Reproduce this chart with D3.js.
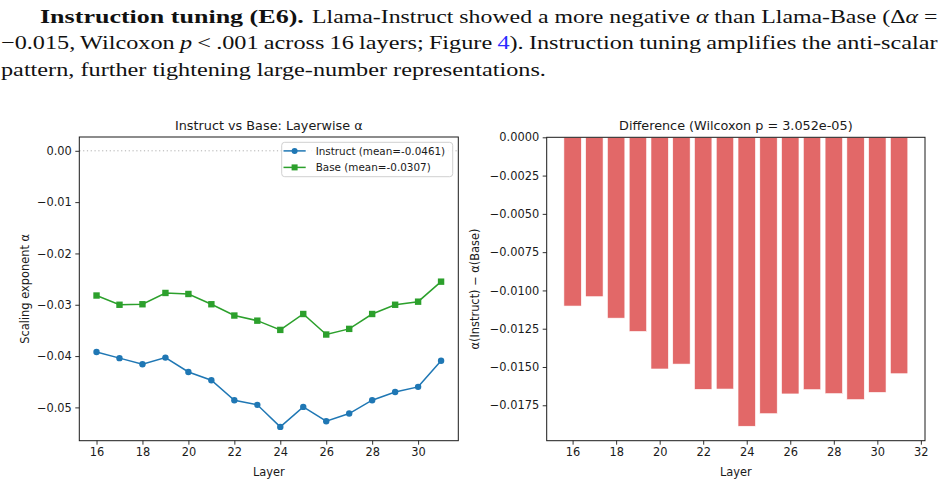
<!DOCTYPE html>
<html>
<head>
<meta charset="utf-8">
<script src="https://cdn.jsdelivr.net/npm/d3@7/dist/d3.min.js"></script>
<style>
  html, body { margin: 0; padding: 0; background: #fff; }
  svg { display: block; }
</style>
</head>
<body>
<svg id="chart" width="947" height="485"></svg>
<script>
// ---------------- data ----------------
const layers = [16, 17, 18, 19, 20, 21, 22, 23, 24, 25, 26, 27, 28, 29, 30, 31];
const instructAlpha = [-0.0392, -0.0404, -0.0416, -0.0403, -0.0431, -0.0447, -0.0486, -0.0495,
                       -0.0538, -0.0499, -0.0527, -0.0512, -0.0486, -0.0470, -0.0460, -0.0409];
const baseAlpha = [-0.0282, -0.0300, -0.0299, -0.0277, -0.0279, -0.0299, -0.0321, -0.0331,
                   -0.0349, -0.0318, -0.0358, -0.0347, -0.0318, -0.0300, -0.0294, -0.0255];
const diffAlpha = [-0.01102, -0.01041, -0.01181, -0.01268, -0.01513, -0.01481, -0.01646, -0.01644,
                   -0.01887, -0.01805, -0.01676, -0.01648, -0.01674, -0.01713, -0.01666, -0.01544];
const leftXTicks = [16, 18, 20, 22, 24, 26, 28, 30];
const leftYTicks = [0, -0.01, -0.02, -0.03, -0.04, -0.05];
const rightXTicks = [16, 18, 20, 22, 24, 26, 28, 30, 32];
const rightYTicks = [0, -0.0025, -0.005, -0.0075, -0.01, -0.0125, -0.015, -0.0175];
const seriesNames = ["Instruct (mean=-0.0461)", "Base (mean=-0.0307)"];
const leftTitle = "Instruct vs Base: Layerwise α";
const rightTitle = "Difference (Wilcoxon p = 3.052e-05)";

const svg = d3.select("#chart");
const FONT = "DejaVu Sans, sans-serif";
const TXT = "#1a1a1a";

// ---------------- paragraph text ----------------
const SERIF = "Liberation Serif, Times New Roman, serif";
const segments = [
  { x: 40, end: 304, y: 22.7, justify: false, fit: true, parts: [
      { t: "Instruction tuning (E6).", w: "bold" } ] },
  { x: 312, end: 937.7, y: 22.7, justify: false, fit: true, parts: [
      { t: "Llama-Instruct showed a more negative " },
      { t: "α", s: "italic" },
      { t: " than Llama-Base (Δ" },
      { t: "α", s: "italic" },
      { t: " =" } ] },
  { x: 1, end: 937.7, y: 49.3, justify: true, parts: [
      { t: "−0.015, Wilcoxon " },
      { t: "p", s: "italic" },
      { t: " < .001 across 16 layers; Figure " },
      { t: "4", c: "#2a2aff" },
      { t: "). Instruction tuning amplifies the anti-scalar" } ] },
  { x: 1, end: 546, y: 76, justify: false, fit: true, base: true, parts: [
      { t: "pattern, further tightening large-number representations." } ] }
];
const segEls = segments.map(S => {
  const g = svg.append("g");
  const t = g.append("text").attr("x", 0).attr("y", 0)
    .attr("font-family", SERIF).attr("font-size", 19.5).attr("fill", "#111")
    .style("white-space", "pre");
  S.parts.forEach(p => {
    t.append("tspan").text(p.t)
      .attr("font-weight", p.w || null)
      .attr("font-style", p.s || null)
      .attr("fill", p.c || null);
  });
  return { g, t, S };
});
const baseSeg = segEls.find(e => e.S.base);
const sxBase = (baseSeg.S.end - baseSeg.S.x) / baseSeg.t.node().getComputedTextLength();
segEls.forEach(({ g, t, S }) => {
  let sx = sxBase;
  const target = S.end - S.x;
  if (S.fit) {
    sx = target / t.node().getComputedTextLength();
  } else if (S.justify) {
    const nat = t.node().getComputedTextLength();
    const nSp = (S.parts.map(p => p.t).join("").match(/ /g) || []).length;
    t.attr("word-spacing", (target / sx - nat) / nSp);
  }
  g.attr("transform", `translate(${S.x},${S.y}) scale(${sx},1)`);
});

// ---------------- helpers ----------------
function frame(x0, x1, y0, y1) {
  svg.append("rect").attr("x", x0).attr("y", y0)
    .attr("width", x1 - x0).attr("height", y1 - y0)
    .attr("fill", "none").attr("stroke", TXT).attr("stroke-width", 1);
}
function styleAxis(g) {
  g.selectAll("path").remove();
  g.selectAll("line").attr("stroke", TXT).attr("stroke-width", 0.9);
  g.selectAll("text").attr("font-family", FONT).attr("font-size", 11.4).attr("fill", TXT);
}

// ---------------- left panel ----------------
const L = { x0: 79.3, x1: 458.3, y0: 137, y1: 440.7 };
const lxExt = d3.extent(layers);
const lxPad = (lxExt[1] - lxExt[0]) * 0.05;
const xL = d3.scaleLinear().domain([lxExt[0] - lxPad, lxExt[1] + lxPad]).range([L.x0, L.x1]);
const lyMin = d3.min(instructAlpha.concat(baseAlpha, [0]));
const lyMax = d3.max(instructAlpha.concat(baseAlpha, [0]));
const lyPad = (lyMax - lyMin) * 0.05;
const yL = d3.scaleLinear().domain([lyMin - lyPad, lyMax + lyPad]).range([L.y1, L.y0]);

svg.append("line").attr("x1", L.x0).attr("x2", L.x1)
  .attr("y1", yL(0)).attr("y2", yL(0))
  .attr("stroke", "#b0b0b0").attr("stroke-width", 1).attr("stroke-dasharray", "1.2,2.6");

const lineGen = d3.line().x((d, i) => xL(layers[i])).y(d => yL(d));
const cBlue = "#1f77b4", cGreen = "#2ca02c";
svg.append("path").datum(instructAlpha).attr("d", lineGen)
  .attr("fill", "none").attr("stroke", cBlue).attr("stroke-width", 1.5);
svg.append("g").selectAll("circle").data(instructAlpha).join("circle")
  .attr("cx", (d, i) => xL(layers[i])).attr("cy", d => yL(d)).attr("r", 3.2).attr("fill", cBlue);
svg.append("path").datum(baseAlpha).attr("d", lineGen)
  .attr("fill", "none").attr("stroke", cGreen).attr("stroke-width", 1.5);
svg.append("g").selectAll("rect").data(baseAlpha).join("rect")
  .attr("x", (d, i) => xL(layers[i]) - 3.2).attr("y", d => yL(d) - 3.2)
  .attr("width", 6.4).attr("height", 6.4).attr("fill", cGreen);

frame(L.x0, L.x1, L.y0, L.y1);
const fmtL = d3.format(".2f");
svg.append("g").attr("transform", `translate(${L.x0},0)`)
  .call(d3.axisLeft(yL).tickValues(leftYTicks).tickFormat(fmtL).tickSizeOuter(0).tickSize(4).tickPadding(3.5))
  .call(styleAxis);
svg.append("g").attr("transform", `translate(0,${L.y1})`)
  .call(d3.axisBottom(xL).tickValues(leftXTicks).tickFormat(d3.format("d")).tickSizeOuter(0).tickSize(4).tickPadding(3.5))
  .call(styleAxis);

svg.append("text").attr("x", (L.x0 + L.x1) / 2).attr("y", 130)
  .attr("text-anchor", "middle").attr("font-family", FONT).attr("font-size", 12.8).attr("fill", TXT)
  .text(leftTitle);
svg.append("text").attr("x", (L.x0 + L.x1) / 2).attr("y", 475.5)
  .attr("text-anchor", "middle").attr("font-family", FONT).attr("font-size", 11.4).attr("fill", TXT)
  .text("Layer");
svg.append("text").attr("transform", `translate(29,${(L.y0 + L.y1) / 2}) rotate(-90)`)
  .attr("text-anchor", "middle").attr("font-family", FONT).attr("font-size", 11.4).attr("fill", TXT)
  .text("Scaling exponent α");

const lg = svg.append("g");
lg.append("rect").attr("x", 281.7).attr("y", 142.3).attr("width", 171).attr("height", 34.4)
  .attr("rx", 3).attr("fill", "#fff").attr("fill-opacity", 0.85)
  .attr("stroke", "#d0d0d0").attr("stroke-width", 1);
const legendRows = [
  { name: seriesNames[0], c: cBlue, m: "circle", y: 150.9 },
  { name: seriesNames[1], c: cGreen, m: "square", y: 167.4 }
];
legendRows.forEach(r => {
  lg.append("line").attr("x1", 283.5).attr("x2", 305.7).attr("y1", r.y).attr("y2", r.y)
    .attr("stroke", r.c).attr("stroke-width", 1.5);
  if (r.m === "circle") lg.append("circle").attr("cx", 294.6).attr("cy", r.y).attr("r", 3).attr("fill", r.c);
  else lg.append("rect").attr("x", 291.6).attr("y", r.y - 3).attr("width", 6).attr("height", 6).attr("fill", r.c);
  lg.append("text").attr("x", 315.7).attr("y", r.y).attr("dy", "0.36em")
    .attr("font-family", FONT).attr("font-size", 10.4).attr("fill", TXT).text(r.name);
});

// ---------------- right panel ----------------
const R = { x0: 546.7, x1: 925, y0: 137.3, y1: 440.7 };
const barW = 0.8;
const rxLo = d3.min(layers) - barW / 2, rxHi = d3.max(layers) + barW / 2;
const rxPad = (rxHi - rxLo) * 0.05;
const xR = d3.scaleLinear().domain([rxLo - rxPad, rxHi + rxPad]).range([R.x0, R.x1]);
const ryMin = d3.min(diffAlpha);
const yR = d3.scaleLinear().domain([ryMin + ryMin * 0.05, 0]).range([R.y1, R.y0]);

svg.append("g").selectAll("rect").data(diffAlpha).join("rect")
  .attr("x", (d, i) => xR(layers[i] - barW / 2))
  .attr("width", (d, i) => xR(layers[i] + barW / 2) - xR(layers[i] - barW / 2))
  .attr("y", yR(0))
  .attr("height", d => yR(d) - yR(0))
  .attr("fill", "#e26868").attr("stroke", "#fff").attr("stroke-width", 0.6);

frame(R.x0, R.x1, R.y0, R.y1);
const fmtR = d3.format(".4f");
svg.append("g").attr("transform", `translate(${R.x0},0)`)
  .call(d3.axisLeft(yR).tickValues(rightYTicks).tickFormat(fmtR).tickSizeOuter(0).tickSize(4).tickPadding(3.5))
  .call(styleAxis);
svg.append("g").attr("transform", `translate(0,${R.y1})`)
  .call(d3.axisBottom(xR).tickValues(rightXTicks).tickFormat(d3.format("d")).tickSizeOuter(0).tickSize(4).tickPadding(3.5))
  .call(styleAxis);

svg.append("text").attr("x", (R.x0 + R.x1) / 2).attr("y", 130)
  .attr("text-anchor", "middle").attr("font-family", FONT).attr("font-size", 12.8).attr("fill", TXT)
  .text(rightTitle);
svg.append("text").attr("x", (R.x0 + R.x1) / 2).attr("y", 475.5)
  .attr("text-anchor", "middle").attr("font-family", FONT).attr("font-size", 11.4).attr("fill", TXT)
  .text("Layer");
svg.append("text").attr("transform", `translate(479,${(R.y0 + R.y1) / 2}) rotate(-90)`)
  .attr("text-anchor", "middle").attr("font-family", FONT).attr("font-size", 11.4).attr("fill", TXT)
  .text("α(Instruct) − α(Base)");
</script>
</body>
</html>
